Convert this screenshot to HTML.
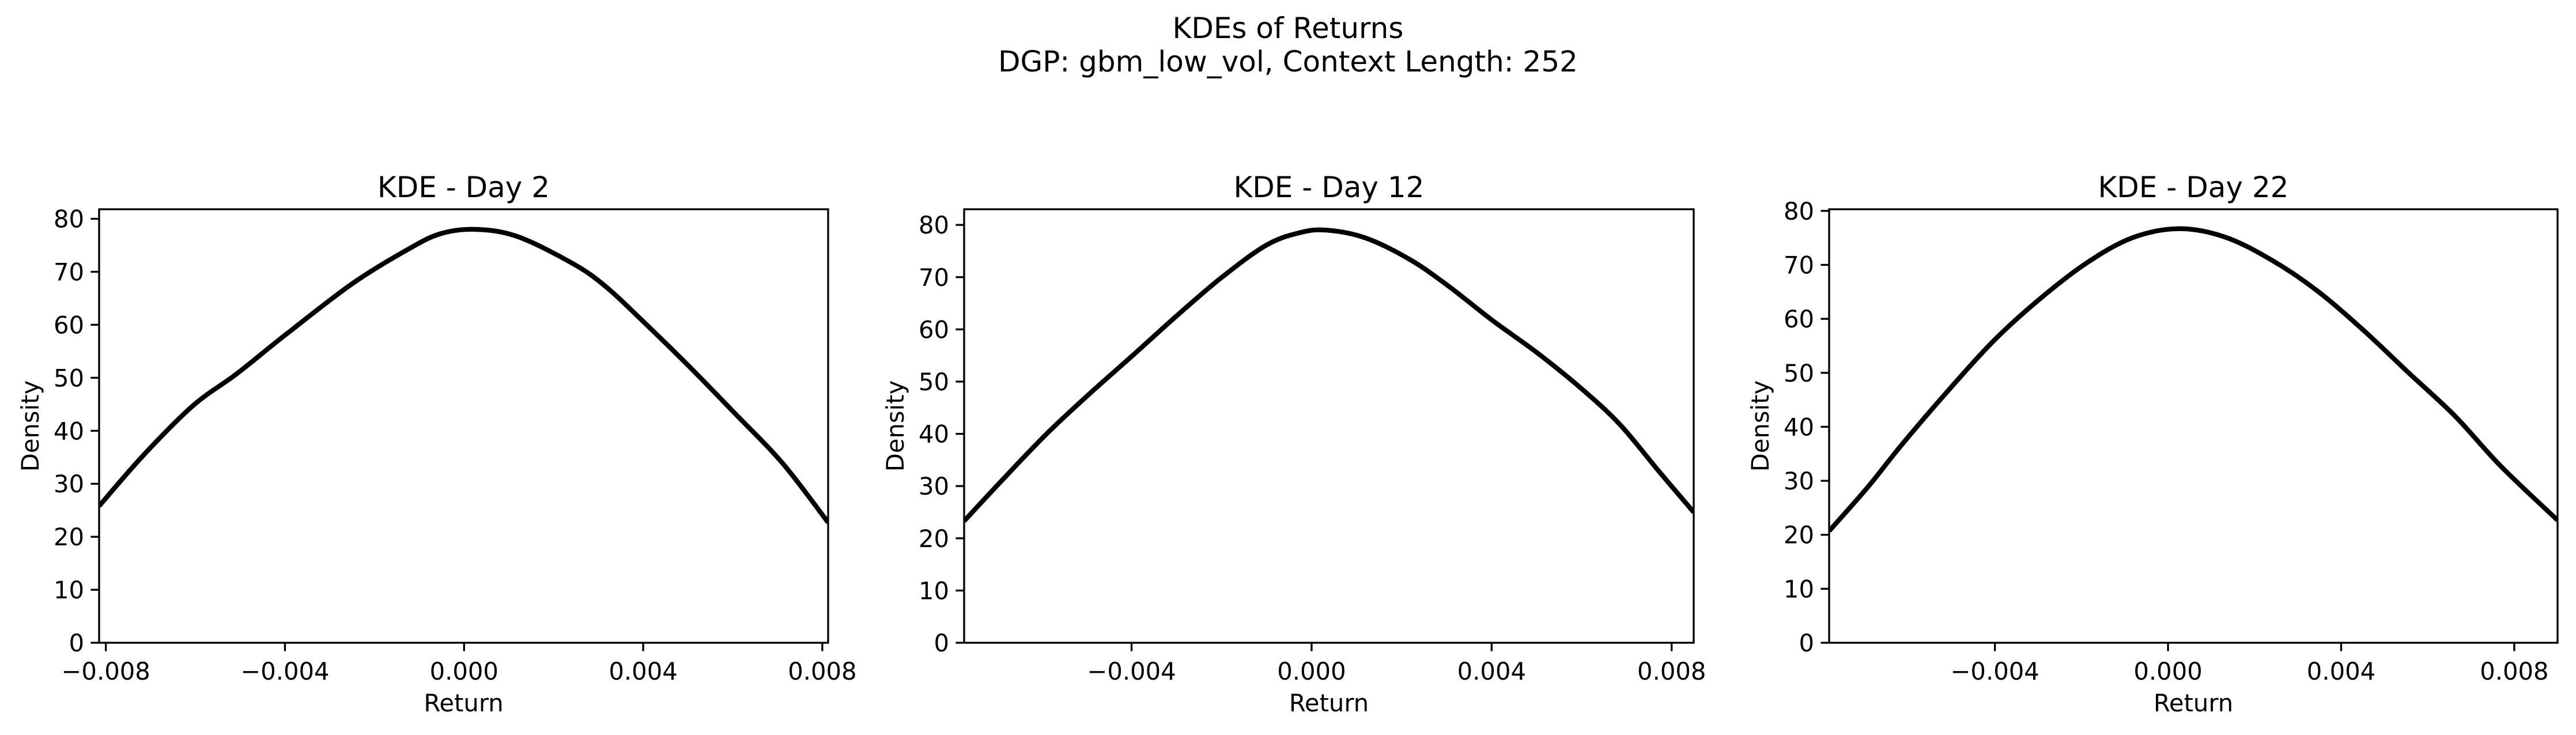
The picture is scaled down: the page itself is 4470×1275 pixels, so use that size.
<!DOCTYPE html>
<html><head><meta charset="utf-8">
<style>
html,body{margin:0;padding:0;background:#fff;}
svg{display:block;font-family:"DejaVu Sans","Liberation Sans",sans-serif;}
</style></head>
<body>
<svg id="fig" width="4470" height="1275" viewBox="0 0 4470 1275" xmlns="http://www.w3.org/2000/svg">
<rect width="4470" height="1275" fill="#fff"/>
<text x="2235" y="66" font-size="50" text-anchor="middle">KDEs of Returns</text>
<text x="2235" y="124" font-size="50" text-anchor="middle">DGP: gbm_low_vol, Context Length: 252</text>
</svg>
<script>
const titles = ["KDE - Day 2", "KDE - Day 12", "KDE - Day 22"];
const xTicks = [-0.008, -0.004, 0.0, 0.004, 0.008];
const xTickLabels = ["\u22120.008", "\u22120.004", "0.000", "0.004", "0.008"];
const yTicks = [0, 10, 20, 30, 40, 50, 60, 70, 80];
const xDomains = [[-0.00815, 0.00813], [-0.00772, 0.00849], [-0.00783, 0.00900]];
const yDomains = [[0, 81.8], [0, 83.0], [0, 80.3]];
const xs1 = [-0.00815,-0.00717,-0.00606,-0.00507,-0.00396,-0.00249,-0.00126,-0.00052,0.00028,0.00121,0.00244,0.00318,0.00404,0.00502,0.00600,0.00711,0.00813];
const ys1 = [25.8,35.3,44.7,50.8,58.3,67.8,74.2,77.2,78.0,76.6,71.5,67.1,60.3,52.2,43.7,33.9,22.7];
const xs2 = [-0.00772,-0.00690,-0.00591,-0.00493,-0.00395,-0.00297,-0.00199,-0.00101,-0.00027,0.00034,0.00120,0.00218,0.00304,0.00402,0.00500,0.00599,0.00685,0.00771,0.00849];
const ys2 = [23.3,30.9,39.8,47.7,55.2,62.8,70.0,76.1,78.5,79.0,77.5,73.4,68.3,61.7,55.6,48.7,41.8,32.9,25.0];
const xs3 = [-0.00783,-0.00695,-0.00615,-0.00508,-0.00402,-0.00296,-0.00189,-0.00083,0.00024,0.00130,0.00237,0.00343,0.00450,0.00556,0.00663,0.00769,0.00900];
const ys3 = [20.7,28.7,36.7,46.7,56.0,63.7,70.3,75.0,76.7,75.2,71.0,65.3,58.0,50.0,42.0,32.7,22.7];
const seriesX = [xs1, xs2, xs3];
const seriesY = [ys1, ys2, ys3];

const NS = "http://www.w3.org/2000/svg";
const svg = document.getElementById("fig");
const boxes = [[172,1437],[1673,2939],[3174,4438]];
const TOP = 363, BOT = 1115;
function mk(tag, attrs, parent){const e=document.createElementNS(NS,tag);for(const k in attrs)e.setAttribute(k,attrs[k]);(parent||svg).appendChild(e);return e;}

for (let p = 0; p < 3; p++) {
  const [L, R] = boxes[p];
  const [x0, x1] = xDomains[p];
  const [y0, y1] = yDomains[p];
  const sx = v => L + (v - x0) / (x1 - x0) * (R - L);
  const sy = v => BOT - (v - y0) / (y1 - y0) * (BOT - TOP);
  const g = mk("g", {});
  
  

  const clipId = "clip" + p;
  const cp = mk("clipPath", {id: clipId}, g);
  mk("rect", {x: L, y: TOP, width: R - L, height: BOT - TOP}, cp);

  // curve (Catmull-Rom)
  const xs = seriesX[p], ys = seriesY[p];
  const pts = xs.map((x, i) => [sx(x), sy(ys[i])]);
  let d = "M" + pts[0][0] + "," + pts[0][1];
  for (let i = 0; i < pts.length - 1; i++) {
    const a = pts[Math.max(0, i - 1)], b = pts[i], c = pts[i + 1], e = pts[Math.min(pts.length - 1, i + 2)];
    const c1x = b[0] + (c[0] - a[0]) / 6, c1y = b[1] + (c[1] - a[1]) / 6;
    const c2x = c[0] - (e[0] - b[0]) / 6, c2y = c[1] - (e[1] - b[1]) / 6;
    d += " C" + c1x + "," + c1y + " " + c2x + "," + c2y + " " + c[0] + "," + c[1];
  }
  const path = mk("path", {d: d, fill: "none", stroke: "#000", "stroke-width": 8.3, "clip-path": "url(#" + clipId + ")", "stroke-linejoin": "round"}, g);
  
  

  const frame = mk("rect", {x: L, y: TOP, width: R - L, height: BOT - TOP, fill: "none", stroke: "#000", "stroke-width": 3.3}, g);
  
  

  xTicks.forEach((t, i) => {
    if (t < x0 - 1e-9 || t > x1 + 1e-9) return;
    const x = sx(t);
    const tk = mk("line", {x1: x, x2: x, y1: BOT, y2: BOT + 14.6, stroke: "#000", "stroke-width": 3.3}, g);
    
    
    const lb = mk("text", {x: x, y: BOT + 64, "font-size": 41.7, "text-anchor": "middle"}, g);
    lb.textContent = xTickLabels[i];
    
    
  });
  yTicks.forEach(t => {
    if (t > y1) return;
    const y = sy(t);
    const tk = mk("line", {x1: L - 14.6, x2: L, y1: y, y2: y, stroke: "#000", "stroke-width": 3.3}, g);
    
    
    const lb = mk("text", {x: L - 26, y: y + 15, "font-size": 41.7, "text-anchor": "end"}, g);
    lb.textContent = String(t);
    
    
  });
  const tt = mk("text", {x: (L + R) / 2, y: 342, "font-size": 50, "text-anchor": "middle"}, g);
  tt.textContent = titles[p];
  
  
  const xl = mk("text", {x: (L + R) / 2, y: 1234, "font-size": 41.7, "text-anchor": "middle"}, g);
  xl.textContent = "Return";
  
  
  const yx = L - 105, yy = (TOP + BOT) / 2;
  const yl = mk("text", {x: yx, y: yy, "font-size": 41.7, "text-anchor": "middle", transform: "rotate(-90 " + yx + " " + yy + ")"}, g);
  yl.textContent = "Density";
  
  
}
</script>
</body></html>
